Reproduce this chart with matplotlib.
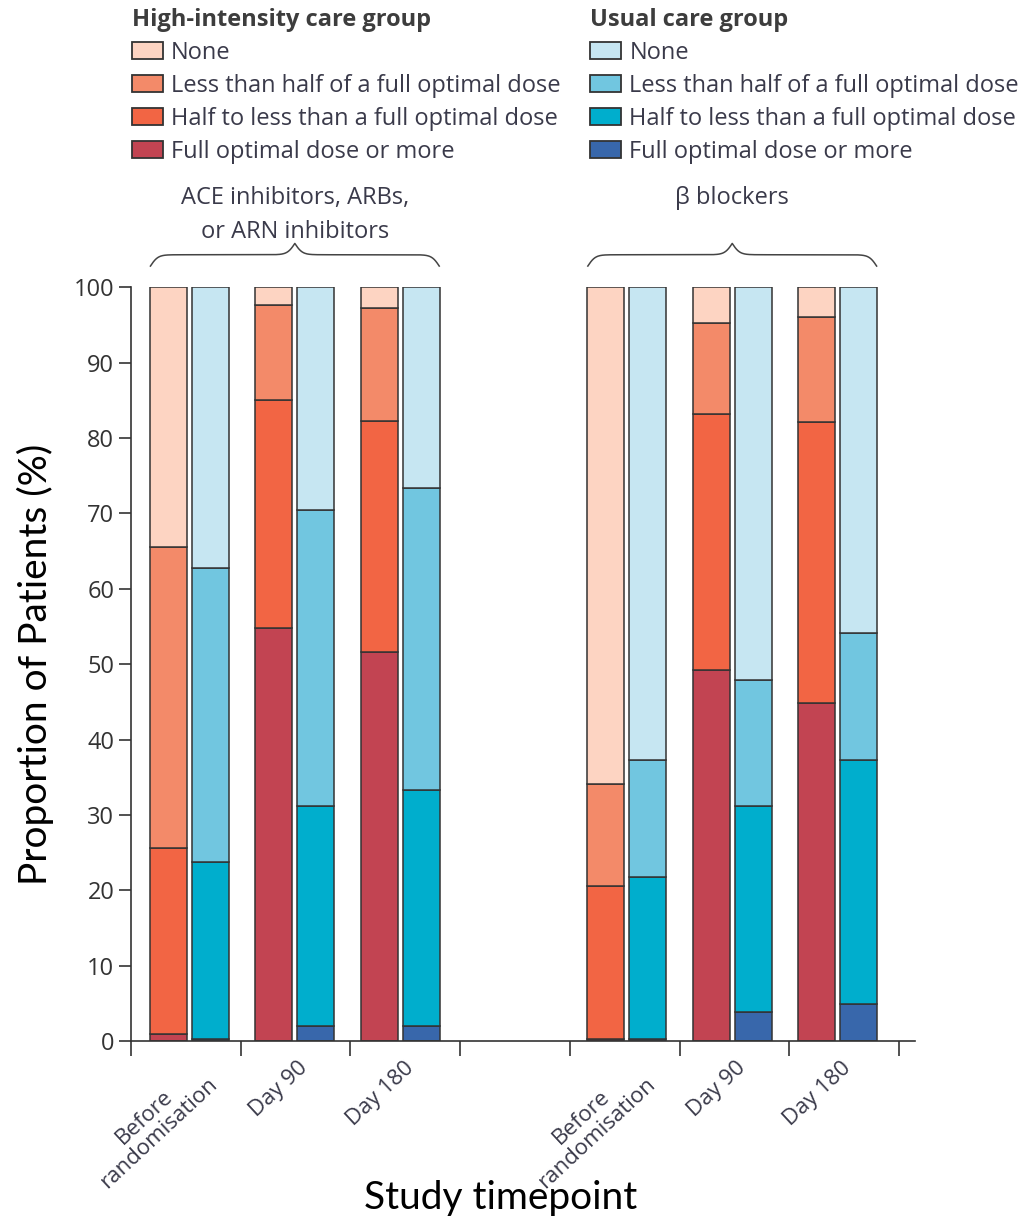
import numpy as np
import matplotlib.pyplot as plt
from matplotlib.patches import Patch

# timepoints and drug classes
timepoints = ['Before\nrandomisation', 'Day 90', 'Day 180']
drug_classes = ['ACE inhibitors, ARBs,\nor ARN inhibitors', 'β blockers']
dose_levels = ['Full optimal dose or more',
               'Half to less than a full optimal dose',
               'Less than half of a full optimal dose',
               'None']

# proportion of patients (%), one row per timepoint,
# columns bottom to top: full, half-to-full, less than half, none
ace_high = [[0.9, 24.7, 39.9, 34.5],
            [54.8, 30.3, 12.5, 2.4],
            [51.6, 30.6, 15.1, 2.7]]
ace_usual = [[0.3, 23.4, 39.1, 37.2],
             [2.0, 29.2, 39.3, 29.5],
             [2.0, 31.3, 40.1, 26.6]]
beta_high = [[0.3, 20.3, 13.5, 65.9],
             [49.2, 34.0, 12.0, 4.8],
             [44.9, 37.2, 13.9, 4.0]]
beta_usual = [[0.3, 21.5, 15.5, 62.7],
              [3.8, 27.4, 16.7, 52.1],
              [4.9, 32.4, 16.8, 45.9]]

high_colors = ['#C24452', '#F26544', '#F38A69', '#FDD4C2']
usual_colors = ['#3867AB', '#00AECD', '#71C6E0', '#C6E6F2']

edge = '#333333'
text_col = '#3a3a4a'
fig = plt.figure(figsize=(10.23, 12.22), dpi=100)
ax = fig.add_axes([0.128, 0.148, 0.766, 0.617])

centres = [np.arange(3), np.arange(3) + 4.15]
width = 0.35
offset = 0.2

for pos, high, usual in zip(centres, [ace_high, beta_high], [ace_usual, beta_usual]):
    high = np.array(high)
    usual = np.array(usual)
    bh = np.zeros(3)
    bu = np.zeros(3)
    for k in range(4):
        ax.bar(pos - offset, high[:, k], width, bottom=bh, color=high_colors[k],
               edgecolor=edge, linewidth=1.1)
        ax.bar(pos + offset, usual[:, k], width, bottom=bu, color=usual_colors[k],
               edgecolor=edge, linewidth=1.1)
        bh += high[:, k]
        bu += usual[:, k]

ax.set_ylim(0, 100)
ax.set_xlim(-0.555, 6.88)
ax.set_yticks(np.arange(0, 101, 10))
ax.tick_params(axis='y', direction='out', length=9, width=1.2, colors='#333333',
               labelsize=17, labelcolor='#333333', pad=3)
for lab in ax.get_yticklabels():
    lab.set_family('Open Sans')

# x ticks between timepoints, labels placed by hand
ax.set_xticks(-0.555 + 1.041 * np.arange(8))
ax.set_xticklabels([])
ax.tick_params(axis='x', direction='out', length=11, width=1.2, colors='#333333')
for pos in centres:
    for p, lab in zip(pos, timepoints):
        ax.text(p + 0.03, -0.022, lab, transform=ax.get_xaxis_transform(),
                rotation=43, rotation_mode='anchor', ha='right', va='top',
                multialignment='center', fontsize=16, family='Open Sans',
                color=text_col, linespacing=1.05)

for s in ['top', 'right']:
    ax.spines[s].set_visible(False)
for s in ['left', 'bottom']:
    ax.spines[s].set_linewidth(1.2)
    ax.spines[s].set_color('#333333')

ax.set_ylabel('Proportion of Patients (%)', fontsize=28, family='Lato', labelpad=14)
fig.text(0.489, 0.02, 'Study timepoint', fontsize=28, family='Lato',
         ha='center', va='center')


# curly braces over each drug class
def brace(x0, x1, y, h):
    x = np.linspace(x0, x1, 401)
    half = x[:201]
    beta = 28.0
    yh = 1 / (1 + np.exp(-beta * (half - half[0]))) + 1 / (1 + np.exp(-beta * (half - half[-1])))
    yy = np.concatenate((yh, yh[-2::-1]))
    ax.plot(x, y + (yy - 0.5) * h, color='#444444', lw=1.1, clip_on=False)


for pos, name in zip(centres, drug_classes):
    brace(pos[0] - 0.37, pos[-1] + 0.37, 102.8, 3.0)
    ax.text(pos[1], 113.4, name, ha='center', va='top', fontsize=17,
            family='Open Sans', color=text_col, linespacing=1.55)

# legends
for colors, title, x in [(high_colors, 'High-intensity care group', 0.113),
                         (usual_colors, 'Usual care group', 0.561)]:
    handles = [Patch(facecolor=c, edgecolor=edge, linewidth=1.3) for c in colors[::-1]]
    leg = fig.legend(handles, dose_levels[::-1], loc='upper left',
                     bbox_to_anchor=(x, 1.007), frameon=False, title=title,
                     alignment='left', handlelength=1.31,
                     handleheight=0.76, handletextpad=0.34, labelspacing=0.38,
                     borderpad=0.2, prop={'family': 'Open Sans', 'size': 17},
                     title_fontproperties={'family': 'Open Sans', 'weight': 'bold',
                                           'size': 17})
    for t in leg.get_texts():
        t.set_color(text_col)
    leg.get_title().set_color('#3d3d3d')

fig.savefig('out.png', dpi=100)
